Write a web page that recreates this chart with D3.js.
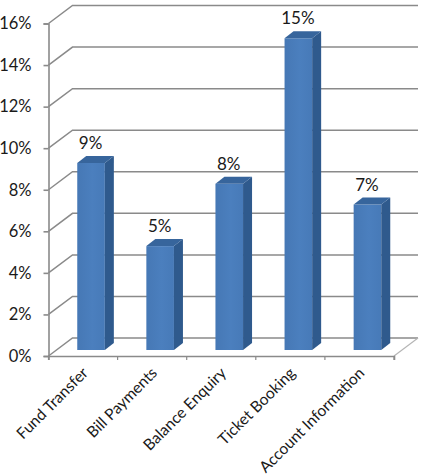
<!DOCTYPE html>
<html>
<head>
<meta charset="utf-8">
<script src="https://cdn.jsdelivr.net/npm/d3@7"></script>
<style>
    html, body { margin: 0; padding: 0; background: #fff; }
    text { font-family: Lato, "Open Sans", sans-serif; fill: #1a1a1a; }
</style>
</head>
<body>
<svg id="chart" width="425" height="476"></svg>
<script>
const categories = ["Fund Transfer", "Bill Payments", "Balance Enquiry", "Ticket Booking", "Account Information"];
const values = [9, 5, 8, 15, 7];
const yTicks = [0, 2, 4, 6, 8, 10, 12, 14, 16];

const svg = d3.select("#chart");
const axisColor = "#8a8a8a";

// front plane of the fake 3d box
const x = d3.scaleBand().domain(categories).range([48.5, 394]);
const y = d3.scaleLinear().domain([0, 16]).range([356, 23.5]);

const depthX = 24, depthY = -18;      // floor/wall depth
const barOffX = 8, barOffY = -6;      // bar sits a bit behind the front edge
const barDepthX = 9, barDepthY = -7;
const barWidth = 27.6;

const defs = svg.append("defs");
const grad = defs.append("linearGradient").attr("id", "barFront");
grad.append("stop").attr("offset", "0%").attr("stop-color", "#4678b5");
grad.append("stop").attr("offset", "55%").attr("stop-color", "#4b7fbe");
grad.append("stop").attr("offset", "100%").attr("stop-color", "#477ab8");

// gridlines on the back wall + side wall
yTicks.forEach(t => {
    svg.append("path")
        .attr("d", `M${x.range()[0]},${y(t)}L${x.range()[0] + depthX},${y(t) + depthY}L${x.range()[1] + depthX},${y(t) + depthY}`)
        .attr("fill", "none")
        .attr("stroke", axisColor)
        .attr("stroke-width", 1.5);
});

// floor right edge
svg.append("line")
    .attr("x1", x.range()[1]).attr("y1", y(0))
    .attr("x2", x.range()[1] + depthX).attr("y2", y(0) + depthY)
    .attr("stroke", "#b5b5b5")
    .attr("stroke-width", 1.2);

// axes
const yAxis = d3.axisLeft(y)
    .tickValues(yTicks)
    .tickSize(5)
    .tickPadding(12)
    .tickFormat(d => d + "%");
const gy = svg.append("g").attr("transform", `translate(${x.range()[0]},0)`).call(yAxis);
gy.selectAll("text").style("font-size", "16.5px");

const xAxis = d3.axisBottom(x).tickSize(4).tickFormat("");
const gx = svg.append("g").attr("transform", `translate(0,${y(0)})`).call(xAxis);
gx.selectAll(".tick").remove();

// tick marks sit between the categories, so they come from the band edges
const xEdges = categories.map(c => x(c)).concat(x.range()[1]);
svg.selectAll(".xtick").data(xEdges).enter().append("line")
    .attr("class", "xtick")
    .attr("x1", d => d).attr("x2", d => d)
    .attr("y1", y(0)).attr("y2", y(0) + 4)
    .attr("stroke", axisColor)
    .attr("stroke-width", 1.2);

[gy, gx].forEach(g => {
    g.selectAll(".domain, .tick line").attr("stroke", axisColor).attr("stroke-width", 1.6);
});

// bars
const bars = svg.selectAll(".bar")
    .data(categories.map((c, i) => ({ name: c, value: values[i] })))
    .enter().append("g").attr("class", "bar");

const left = d => x(d.name) + x.bandwidth() / 2 + barOffX - barWidth / 2;
const base = y(0) + barOffY;
const top3d = d => base - (y(0) - y(d.value));

bars.append("rect")
    .attr("x", left)
    .attr("y", top3d)
    .attr("width", barWidth)
    .attr("height", d => base - top3d(d))
    .attr("fill", "url(#barFront)");

bars.append("path") // side
    .attr("d", d => {
        const r = left(d) + barWidth;
        return `M${r},${top3d(d)}L${r + barDepthX},${top3d(d) + barDepthY}L${r + barDepthX},${base + barDepthY}L${r},${base}Z`;
    })
    .attr("fill", "#2f5a8d");

bars.append("path") // top
    .attr("d", d => {
        const l = left(d), r = l + barWidth, t = top3d(d);
        return `M${l},${t}L${l + barDepthX},${t + barDepthY}L${r + barDepthX},${t + barDepthY}L${r},${t}Z`;
    })
    .attr("fill", "#37659c");

bars.append("text")
    .attr("x", d => left(d) + barWidth / 2 - 0.5)
    .attr("y", d => top3d(d) + barDepthY - 7)
    .attr("text-anchor", "middle")
    .style("font-size", "17px")
    .text(d => d.value + "%");

// rotated category labels
svg.selectAll(".cat").data(categories).enter().append("text")
    .attr("class", "cat")
    .attr("text-anchor", "end")
    .attr("transform", d => `translate(${x(d) + x.bandwidth() / 2 + 6},${y(0) + 18}) rotate(-45)`)
    .style("font-size", "15.6px")
    .text(d => d);
</script>
</body>
</html>
